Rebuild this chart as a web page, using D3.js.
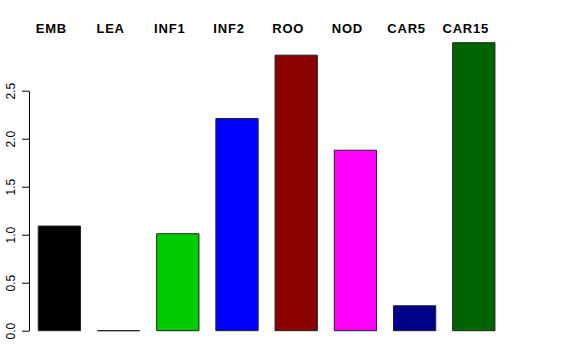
<!DOCTYPE html>
<html>
<head>
<meta charset="utf-8">
<script src="https://cdn.jsdelivr.net/npm/d3@7"></script>
<style>
  body { margin: 0; background: #fff; }
  text { font-family: "Liberation Sans", Arial, Helvetica, sans-serif; }
</style>
</head>
<body>
<div id="chart"></div>
<script>
var svgWidth = 576;
var svgHeight = 360;

// data
var categories = ["EMB", "LEA", "INF1", "INF2", "ROO", "NOD", "CAR5", "CAR15"];
var values = [1.09, 0.0, 1.01, 2.21, 2.87, 1.88, 0.26, 3.0];
var barColors = ["#000000", "#FF0000", "#00CD00", "#0000FF", "#8B0000", "#FF00FF", "#00008B", "#006400"];
var yTicks = [0, 0.5, 1.0, 1.5, 2.0, 2.5];

var data = categories.map(function(c, i) {
  return { name: c, value: values[i], color: barColors[i] };
});

var svg = d3.select("#chart")
  .append("svg")
  .attr("width", svgWidth)
  .attr("height", svgHeight);

// bar width 1, space 0.4 like R barplot
var xScale = d3.scaleBand()
  .domain(categories)
  .range([29.8, 503.4])
  .paddingInner(0.4 / 1.4)
  .paddingOuter(0.2 / 1.4);

var yScale = d3.scaleLinear()
  .domain([0, 2.5])
  .range([330.7, 90.7]);

// bars as closed paths so a zero bar still shows its border
svg.selectAll("path.bar")
  .data(data)
  .enter()
  .append("path")
  .attr("class", "bar")
  .attr("d", function(d) {
    var x0 = xScale(d.name), w = xScale.bandwidth();
    var y0 = yScale(0), y1 = yScale(d.value);
    return "M" + x0 + "," + y0 + "H" + (x0 + w) + "V" + y1 + "H" + x0 + "Z";
  })
  .attr("fill", d => d.color)
  .attr("stroke", "#222")
  .attr("stroke-width", 1);

// labels on top
svg.selectAll("text.top")
  .data(data)
  .enter()
  .append("text")
  .attr("class", "top")
  .attr("x", d => xScale(d.name) + xScale.bandwidth() / 2 - 8)
  .attr("y", 33)
  .attr("text-anchor", "middle")
  .attr("font-size", "13px")
  .attr("font-weight", "bold")
  .attr("letter-spacing", "0.8px")
  .attr("fill", "#000")
  .text(d => d.name);

// left axis, R style with rotated labels
var leftAxis = d3.axisLeft(yScale)
  .tickValues(yTicks)
  .tickSize(7)
  .tickSizeOuter(0)
  .tickFormat(d3.format(".1f"));

var yAxis = svg.append("g")
  .attr("transform", "translate(29, 0)")
  .call(leftAxis);

yAxis.select(".domain").attr("stroke", "#000");
yAxis.selectAll(".tick line").attr("stroke", "#000");
yAxis.selectAll(".tick text")
  .attr("transform", "rotate(-90)")
  .attr("x", 0)
  .attr("y", -14.5)
  .attr("dy", null)
  .attr("text-anchor", "middle")
  .attr("font-size", "12px")
  .attr("font-family", "Liberation Sans, Arial, sans-serif")
  .attr("fill", "#000");
</script>
</body>
</html>
